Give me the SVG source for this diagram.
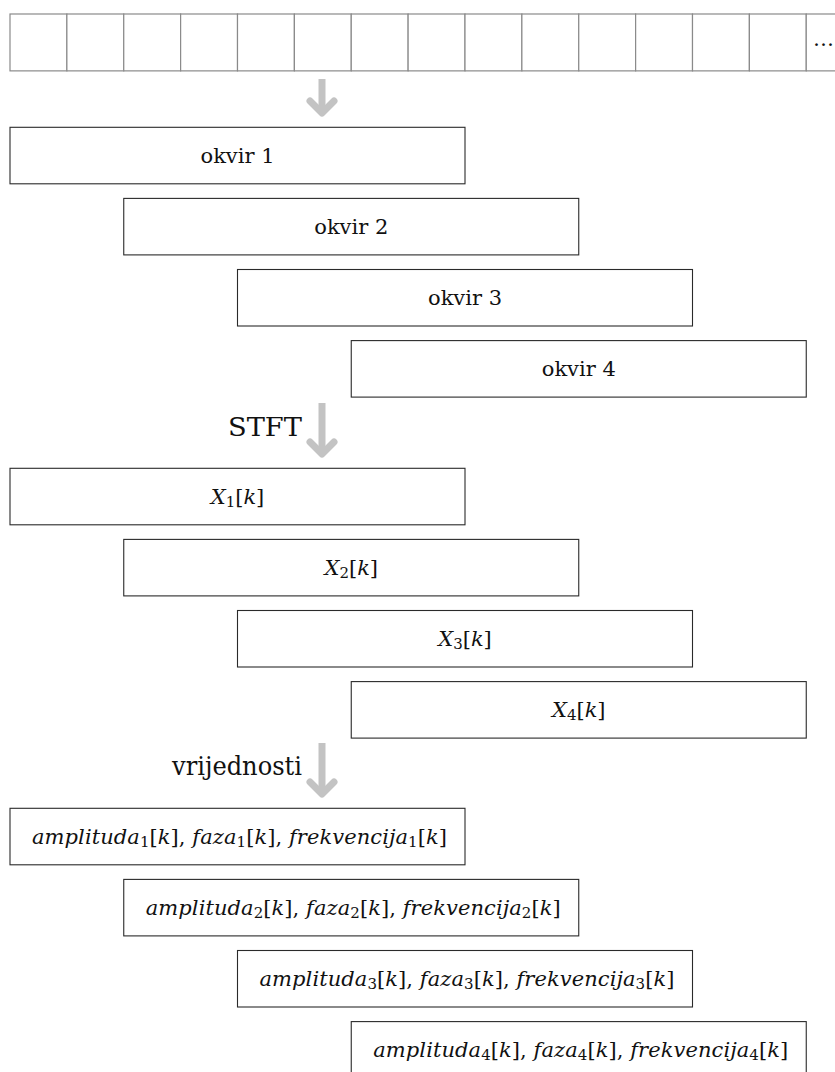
<svg xmlns="http://www.w3.org/2000/svg" width="835" height="1072" viewBox="0 0 835 1072">
  <style>
    .box { fill: #ffffff; stroke: #2a2a2a; stroke-width: 1.1; }
    .cell { fill: #ffffff; stroke: #8a8a8a; stroke-width: 1.2; }
    .t { font-size: 21px; fill: #111; }
    .lbl { font-size: 26px; fill: #111; }
    .i { font-style: italic; }
    .s { font-size: 15px; font-style: normal; }
    .arrow { fill: none; stroke: #c3c3c3; stroke-width: 7; stroke-linejoin: round; }
    .shaft { stroke-linecap: butt; }
    .head { stroke-linecap: round; }
  </style>

  <g font-family="'DejaVu Serif', 'Liberation Serif', serif">
  <!-- sample strip -->
  <g id="samples">
    <rect class="cell" x="10" y="14" width="56.875" height="56.875"/>
    <rect class="cell" x="66.875" y="14" width="56.875" height="56.875"/>
    <rect class="cell" x="123.75" y="14" width="56.875" height="56.875"/>
    <rect class="cell" x="180.625" y="14" width="56.875" height="56.875"/>
    <rect class="cell" x="237.5" y="14" width="56.875" height="56.875"/>
    <rect class="cell" x="294.375" y="14" width="56.875" height="56.875"/>
    <rect class="cell" x="351.25" y="14" width="56.875" height="56.875"/>
    <rect class="cell" x="408.125" y="14" width="56.875" height="56.875"/>
    <rect class="cell" x="465" y="14" width="56.875" height="56.875"/>
    <rect class="cell" x="521.875" y="14" width="56.875" height="56.875"/>
    <rect class="cell" x="578.75" y="14" width="56.875" height="56.875"/>
    <rect class="cell" x="635.625" y="14" width="56.875" height="56.875"/>
    <rect class="cell" x="692.5" y="14" width="56.875" height="56.875"/>
    <rect class="cell" x="749.375" y="14" width="56.875" height="56.875"/>
    <rect class="cell" x="806.25" y="14" width="56.875" height="56.875"/>
    <text class="t" x="834" y="46" text-anchor="end" textLength="20" lengthAdjust="spacing">…</text>
  </g>

  <!-- frames -->
  <g id="okvir1"><rect class="box" x="10" y="127.3" width="455" height="56.5"/><text class="t" x="237.5" y="163" text-anchor="middle">okvir 1</text></g>
  <g id="okvir2"><rect class="box" x="123.75" y="198.4" width="455" height="56.5"/><text class="t" x="351.25" y="234.1" text-anchor="middle">okvir 2</text></g>
  <g id="okvir3"><rect class="box" x="237.5" y="269.5" width="455" height="56.5"/><text class="t" x="465" y="305.2" text-anchor="middle">okvir 3</text></g>
  <g id="okvir4"><rect class="box" x="351.25" y="340.6" width="455" height="56.5"/><text class="t" x="578.75" y="376.3" text-anchor="middle">okvir 4</text></g>

  <!-- spectra -->
  <g id="X1"><rect class="box" x="10" y="468.3" width="455" height="56.5"/><text class="t" x="237.5" y="504" text-anchor="middle"><tspan class="i">X</tspan><tspan class="s" dy="3">1</tspan><tspan dy="-3">[</tspan><tspan class="i">k</tspan>]</text></g>
  <g id="X2"><rect class="box" x="123.75" y="539.4" width="455" height="56.5"/><text class="t" x="351.25" y="575.1" text-anchor="middle"><tspan class="i">X</tspan><tspan class="s" dy="3">2</tspan><tspan dy="-3">[</tspan><tspan class="i">k</tspan>]</text></g>
  <g id="X3"><rect class="box" x="237.5" y="610.5" width="455" height="56.5"/><text class="t" x="465" y="646.2" text-anchor="middle"><tspan class="i">X</tspan><tspan class="s" dy="3">3</tspan><tspan dy="-3">[</tspan><tspan class="i">k</tspan>]</text></g>
  <g id="X4"><rect class="box" x="351.25" y="681.6" width="455" height="56.5"/><text class="t" x="578.75" y="717.3" text-anchor="middle"><tspan class="i">X</tspan><tspan class="s" dy="3">4</tspan><tspan dy="-3">[</tspan><tspan class="i">k</tspan>]</text></g>

  <!-- values -->
  <g id="values1"><rect class="box" x="10" y="808.3" width="455" height="56.5"/><text class="t" x="239.5" y="844" text-anchor="middle" textLength="415" lengthAdjust="spacing"><tspan class="i">amplituda</tspan><tspan class="s" dy="3">1</tspan><tspan dy="-3">[</tspan><tspan class="i">k</tspan>], <tspan class="i">faza</tspan><tspan class="s" dy="3">1</tspan><tspan dy="-3">[</tspan><tspan class="i">k</tspan>], <tspan class="i">frekvencija</tspan><tspan class="s" dy="3">1</tspan><tspan dy="-3">[</tspan><tspan class="i">k</tspan>]</text></g>
  <g id="values2"><rect class="box" x="123.75" y="879.4" width="455" height="56.5"/><text class="t" x="353.25" y="915.1" text-anchor="middle" textLength="415" lengthAdjust="spacing"><tspan class="i">amplituda</tspan><tspan class="s" dy="3">2</tspan><tspan dy="-3">[</tspan><tspan class="i">k</tspan>], <tspan class="i">faza</tspan><tspan class="s" dy="3">2</tspan><tspan dy="-3">[</tspan><tspan class="i">k</tspan>], <tspan class="i">frekvencija</tspan><tspan class="s" dy="3">2</tspan><tspan dy="-3">[</tspan><tspan class="i">k</tspan>]</text></g>
  <g id="values3"><rect class="box" x="237.5" y="950.5" width="455" height="56.5"/><text class="t" x="467" y="986.2" text-anchor="middle" textLength="415" lengthAdjust="spacing"><tspan class="i">amplituda</tspan><tspan class="s" dy="3">3</tspan><tspan dy="-3">[</tspan><tspan class="i">k</tspan>], <tspan class="i">faza</tspan><tspan class="s" dy="3">3</tspan><tspan dy="-3">[</tspan><tspan class="i">k</tspan>], <tspan class="i">frekvencija</tspan><tspan class="s" dy="3">3</tspan><tspan dy="-3">[</tspan><tspan class="i">k</tspan>]</text></g>
  <g id="values4"><rect class="box" x="351.25" y="1021.6" width="455" height="56.5"/><text class="t" x="580.75" y="1057.3" text-anchor="middle" textLength="415" lengthAdjust="spacing"><tspan class="i">amplituda</tspan><tspan class="s" dy="3">4</tspan><tspan dy="-3">[</tspan><tspan class="i">k</tspan>], <tspan class="i">faza</tspan><tspan class="s" dy="3">4</tspan><tspan dy="-3">[</tspan><tspan class="i">k</tspan>], <tspan class="i">frekvencija</tspan><tspan class="s" dy="3">4</tspan><tspan dy="-3">[</tspan><tspan class="i">k</tspan>]</text></g>

  <!-- connectors -->
  <g id="connectors">
    <path class="arrow shaft" d="M322 79 V112"/>
    <path class="arrow head" d="M310 101 L322 113 L334 101"/>

    <path class="arrow shaft" d="M322 403 V453"/>
    <path class="arrow head" d="M310 442 L322 454 L334 442"/>
    <text class="lbl" x="302" y="436" text-anchor="end" textLength="74" lengthAdjust="spacingAndGlyphs">STFT</text>

    <path class="arrow shaft" d="M322 743 V793"/>
    <path class="arrow head" d="M310 782 L322 794 L334 782"/>
    <text class="lbl" x="302" y="775" text-anchor="end" textLength="130" lengthAdjust="spacingAndGlyphs">vrijednosti</text>
  </g>
  </g>
</svg>
